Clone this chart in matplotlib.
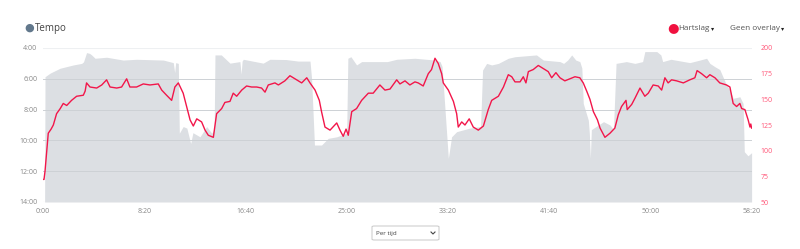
import matplotlib
matplotlib.use("Agg")
import matplotlib.pyplot as plt
from matplotlib.patches import FancyBboxPatch
from matplotlib.lines import Line2D
import numpy as np

plt.rcParams['font.family'] = ['Open Sans', 'DejaVu Sans']

# Heart rate (time in s, bpm)
hr_t = [0, 5, 10, 26, 40, 51, 67, 85, 100, 117, 141, 166, 199, 208, 215, 232, 265, 290, 314, 331,
        364, 388, 413, 429, 462, 495, 528, 569, 586, 610, 635, 651, 668, 692, 709, 726, 742, 759,
        783, 800, 816, 841, 857, 882, 898, 923, 939, 956, 981, 1005, 1030, 1055, 1079, 1096, 1112,
        1145, 1162, 1194, 1219, 1252, 1277, 1302, 1318, 1343, 1364, 1375, 1392, 1417, 1450, 1466,
        1482, 1496, 1507, 1524, 1548, 1573, 1606, 1630, 1663, 1688, 1713, 1746, 1762, 1787, 1811,
        1836, 1852, 1877, 1902, 1918, 1935, 1951, 1968, 1976, 2001, 2026, 2042, 2050, 2067, 2083,
        2104, 2124, 2149, 2174, 2198, 2215, 2248, 2273, 2297, 2314, 2330, 2355, 2371, 2384, 2396,
        2420, 2445, 2470, 2494, 2511, 2532, 2552, 2576, 2601, 2626, 2650, 2667, 2684, 2700, 2717,
        2737, 2750, 2774, 2799, 2823, 2840, 2856, 2878, 2884, 2906, 2922, 2947, 2971, 2988, 3012,
        3037, 3054, 3070, 3086, 3103, 3128, 3161, 3193, 3218, 3229, 3251, 3276, 3292, 3317, 3341,
        3374, 3391, 3407, 3424, 3440, 3449, 3465, 3481, 3490, 3494, 3498]
hr_bpm = [72, 72, 80, 117, 121, 125, 136, 141, 146, 144, 149, 153, 154, 158, 166, 162, 161, 164, 169, 162,
          161, 162, 170, 162, 162, 165, 164, 165, 159, 154, 149, 162, 166, 156, 143, 130, 124, 131,
          128, 120, 115, 113, 136, 141, 147, 148, 156, 153, 159, 163, 162, 162, 161, 157, 164,
          166, 164, 168, 173, 169, 166, 171, 166, 159, 149, 138, 123, 120, 127, 120,
          114, 121, 115, 138, 141, 149, 156, 156, 164, 159, 160, 169, 165, 168, 164,
          167, 166, 163, 175, 179, 190, 185, 175, 166, 159, 148, 136, 123, 128, 125,
          131, 123, 120, 124, 140, 149, 153, 162, 174, 172, 167, 167, 172, 166, 177,
          179, 183, 180, 177, 171, 176, 171, 168, 170, 172, 171, 166, 158, 150, 138,
          130, 122, 113, 117, 122, 135, 143, 149, 140, 145, 151, 161, 153, 156, 164,
          163, 159, 171, 166, 169, 168, 166, 169, 171, 178, 175, 171, 174, 171, 166,
          164, 162, 146, 143, 146, 141, 140, 130, 123, 126, 122]

# Pace (time in s, seconds per km)
pace_t = [8, 10, 35, 84, 150, 191, 200, 215, 230, 240, 257, 314, 396, 462, 594, 643, 650, 655, 668,
          673, 692, 710, 729, 740, 775, 808, 833, 845, 849, 880, 923, 972, 978, 983, 989, 1087,
          1120, 1200, 1260, 1318, 1326, 1340, 1375, 1408, 1450, 1499, 1505, 1520, 1548, 1573,
          1700, 1746, 1836, 1935, 1960, 1970, 2001, 2017, 2042, 2107, 2160, 2170, 2190, 2215,
          2248, 2297, 2330, 2436, 2470, 2552, 2570, 2590, 2610, 2630, 2650, 2660, 2667, 2692,
          2697, 2702, 2707, 2767, 2799, 2816, 2829, 2880, 2922, 2960, 2971, 3030, 3050, 3059,
          3100, 3193, 3243, 3276, 3292, 3317, 3341, 3374, 3391, 3407, 3440, 3456, 3462, 3480, 3498]
pace_s = [840, 352, 338, 319, 306, 300, 294, 258, 261, 267, 280, 276, 287, 284, 287, 297, 336, 297, 300,
          572, 546, 552, 612, 570, 586, 546, 572, 558, 267, 267, 299, 293, 342, 291, 284, 299,
          284, 285, 291, 291, 360, 618, 618, 592, 586, 572, 280, 274, 306, 293,
          293, 284, 280, 287, 293, 312, 670, 586, 566, 552, 546, 326, 300, 306,
          300, 280, 274, 267, 287, 293, 300, 287, 267, 287, 293, 318, 456, 521,
          572, 670, 558, 527, 540, 558, 300, 293, 300, 293, 254, 254, 267, 293,
          284, 297, 287, 280, 300, 313, 324, 384, 404, 436, 430, 456, 644, 660, 648]

x_ticks = [0, 500, 1000, 1500, 2000, 2500, 3000, 3500]
x_labels = ['0:00', '8:20', '16:40', '25:00', '33:20', '41:40', '50:00', '58:20']
pace_ticks = [240, 360, 480, 600, 720, 840]
pace_labels = ['4:00', '6:00', '8:00', '10:00', '12:00', '14:00']
hr_ticks = [50, 75, 100, 125, 150, 175, 200]

fig = plt.figure(figsize=(8.0, 2.49), dpi=100)
ax = fig.add_axes([43/800, 1-202/249, (752-43)/800, 154/249])

fill_col = '#dcdfe3'
red = '#f2164a'

ax.fill_between(pace_t, pace_s, 840, color=fill_col, lw=0, zorder=1)
ax.set_xlim(0, 3500)
ax.set_ylim(840, 240)
ax.set_yticks(pace_ticks)
ax.set_yticklabels(pace_labels)
ax.set_xticks(x_ticks)
ax.set_xticklabels(x_labels)
for y in pace_ticks[1:-1]:
    ax.axhline(y, color='#cdd1d5', lw=0.7, zorder=2)
ax.axhline(840, color='#e6e8ea', lw=0.8, zorder=2)
ax.axhline(240, color='#eef0f2', lw=1.5, zorder=2)
for s in ax.spines.values():
    s.set_visible(False)
ax.tick_params(axis='both', length=0, labelsize=5, colors='#888888')
ax.tick_params(axis='y', pad=4)
ax.tick_params(axis='x', pad=4)

ax2 = ax.twinx()
ax2.plot(hr_t, hr_bpm, color=red, lw=1.0, zorder=3)
ax2.set_ylim(50, 200)
ax2.set_yticks(hr_ticks)
for s in ax2.spines.values():
    s.set_visible(False)
ax2.tick_params(axis='y', length=0, labelsize=5, colors='#ff5577', pad=6)
ax2.set_xlim(0, 3500)

# Legend / header
yh = 1 - 28/249
fig.text(29.5/800, yh, '\u25cf', color='#62788c', fontsize=8, va='center', ha='center')
fig.text(35/800, yh, 'Tempo', color='#444444', fontsize=7, va='center', ha='left')
fig.text(673/800, yh, '\u25cf', color='#f0103f', fontsize=9.5, va='center', ha='center')
t1 = fig.text(678.5/800, yh, 'Hartslag', color='#555555', fontsize=5.9, va='center', ha='left')
t2 = fig.text(730/800, yh, 'Geen overlay', color='#555555', fontsize=5.9, va='center', ha='left')
for t in (t1, t2):
    ax2.annotate('\u25be', xy=(1, 0.45), xycoords=t, xytext=(0.8, 0), textcoords='offset points',
                 color='#222222', fontsize=4.5, va='center', ha='left', annotation_clip=False)

# Dropdown box
box = FancyBboxPatch((372/800, 1-240/249), 67/800, 14/249,
                     boxstyle='round,pad=0,rounding_size=0.003',
                     transform=fig.transFigure, fc='white', ec='#c8c8c8', lw=0.7)
fig.patches.append(box)
fig.text(376/800, 1-233/249, 'Per tijd', color='#444444', fontsize=4.5, va='center', ha='left')
fig.lines.append(Line2D([431/800, 433/800, 435/800], [1-232/249, 1-234/249, 1-232/249],
                        transform=fig.transFigure, color='#444444', lw=0.8))

fig.savefig('out.png', dpi=100, facecolor='white')
